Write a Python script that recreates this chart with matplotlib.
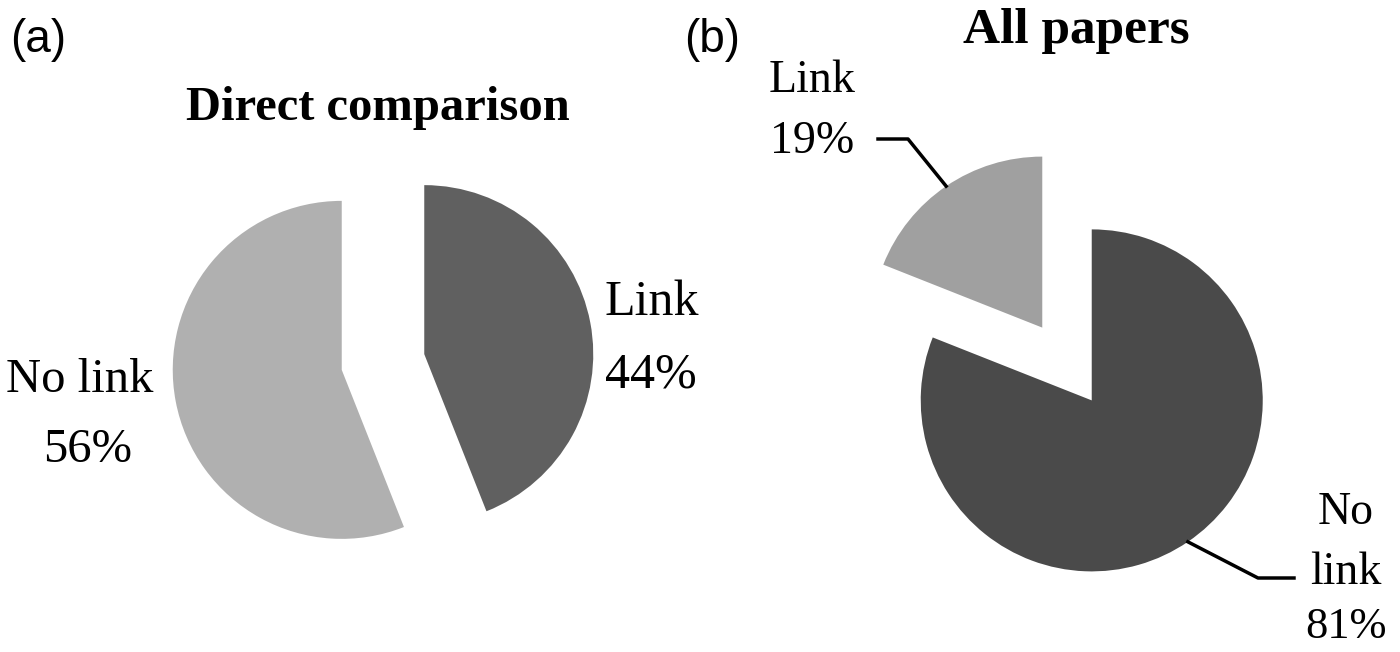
import math
import matplotlib
matplotlib.use("Agg")
import matplotlib.pyplot as plt

# panel (a): direct comparison
direct_labels = ["Link", "No link"]
direct_shares = [44, 56]
direct_colors = ["#606060", "#b0b0b0"]

# panel (b): all papers
all_labels = ["Link", "No link"]
all_shares = [19, 81]
all_colors = ["#a0a0a0", "#4a4a4a"]

W, H = 1400, 652
SERIF = ["Liberation Serif", "DejaVu Serif"]
SANS = ["Liberation Sans", "DejaVu Sans"]

fig = plt.figure(figsize=(W / 100, H / 100), dpi=100)
ax = fig.add_axes([0, 0, 1, 1])

# (a) clockwise from the top
wa, _ = ax.pie(direct_shares, colors=direct_colors, startangle=90,
               counterclock=False, radius=169, center=(383, 290),
               explode=[42, 42], frame=True,
               wedgeprops=dict(linewidth=0))
# (b) counter-clockwise from the top
wb, _ = ax.pie(all_shares, colors=all_colors, startangle=90,
               counterclock=True, radius=171, center=(1067, 288),
               explode=[44, 44], frame=True,
               wedgeprops=dict(linewidth=0))
ax.set_xlim(0, W)
ax.set_ylim(0, H)
ax.set_aspect("equal")
ax.axis("off")

ax.text(10, 600, "(a)", fontsize=33, family=SANS, ha="left", va="baseline")
ax.text(684, 600, "(b)", fontsize=33, family=SANS, ha="left", va="baseline")

ax.text(378, 532, "Direct comparison", fontsize=35, family=SERIF,
        fontweight="bold", ha="center", va="baseline")
ax.text(1076, 609, "All papers", fontsize=37, family=SERIF,
        fontweight="bold", ha="center", va="baseline")

# labels for (a)
ax.text(605, 652 - 315, direct_labels[0], fontsize=36, family=SERIF,
        ha="left", va="baseline")
ax.text(605, 652 - 388, f"{direct_shares[0]}%", fontsize=36, family=SERIF,
        ha="left", va="baseline")
ax.text(80, 652 - 392, direct_labels[1], fontsize=35, family=SERIF,
        ha="center", va="baseline")
ax.text(88, 652 - 462, f"{direct_shares[1]}%", fontsize=35, family=SERIF,
        ha="center", va="baseline")


def arc_mid(w):
    th = math.radians((w.theta1 + w.theta2) / 2)
    cx, cy = w.center
    return cx + w.r * math.cos(th), cy + w.r * math.sin(th)


# labels for (b)
ax.text(812, 652 - 92, all_labels[0], fontsize=33, family=SERIF,
        ha="center", va="baseline")
ax.text(812, 652 - 153, f"{all_shares[0]}%", fontsize=33, family=SERIF,
        ha="center", va="baseline")
px, py = arc_mid(wb[0])
ax.plot([878, 908, px], [652 - 139, 652 - 139, py], color="black", lw=2.5)

ax.text(1346, 652 - 524, "No", fontsize=33, family=SERIF, ha="center", va="baseline")
ax.text(1346, 652 - 584, "link", fontsize=33, family=SERIF, ha="center", va="baseline")
ax.text(1346, 652 - 638, f"{all_shares[1]}%", fontsize=32, family=SERIF,
        ha="center", va="baseline")
px, py = arc_mid(wb[1])
ax.plot([px, 1258, 1294], [py, 652 - 578, 652 - 578], color="black", lw=2.5)

fig.savefig("out.png", dpi=100)
